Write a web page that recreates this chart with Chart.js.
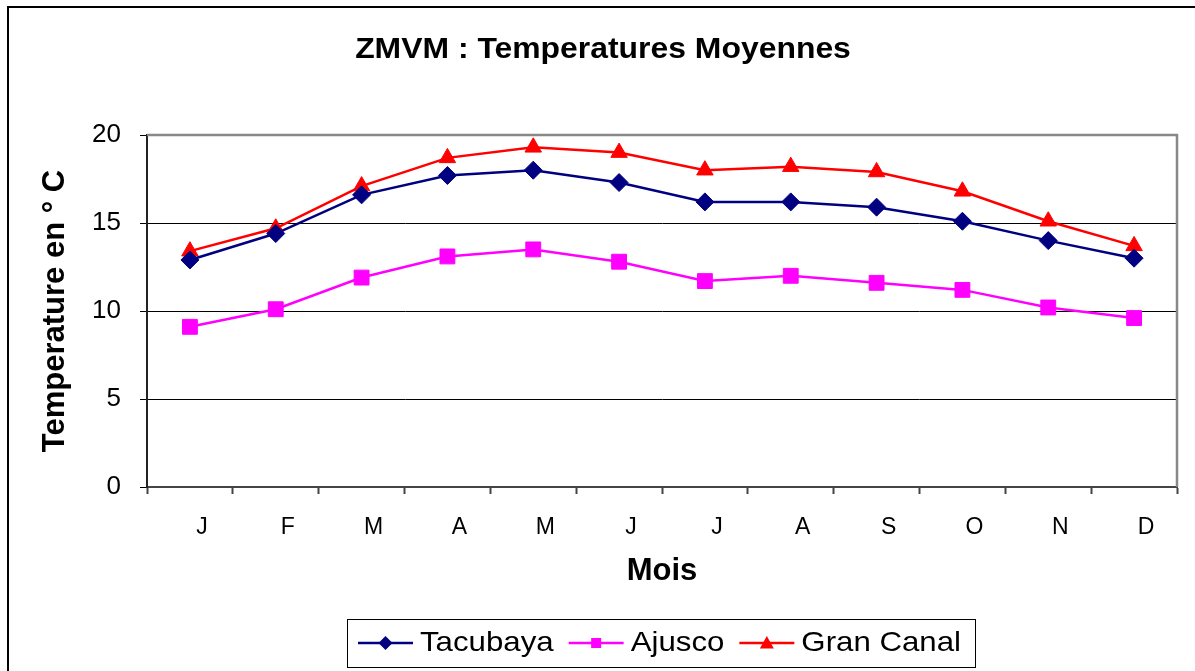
<!DOCTYPE html>
<html>
<head>
<meta charset="utf-8">
<script src="https://cdn.jsdelivr.net/npm/chart.js@4/dist/chart.umd.min.js"></script>
<style>
  html, body { margin: 0; padding: 0; background: #fff; overflow: hidden; }
  #wrap { width: 1195px; height: 671px; position: relative; }
</style>
</head>
<body>
<div id="wrap"><canvas id="grafico" width="1195" height="671"></canvas></div>
<script>
// donnees
const mois = ['J', 'F', 'M', 'A', 'M', 'J', 'J', 'A', 'S', 'O', 'N', 'D'];
const tacubaya = [12.9, 14.4, 16.6, 17.7, 18.0, 17.3, 16.2, 16.2, 15.9, 15.1, 14.0, 13.0];
const ajusco = [9.1, 10.1, 11.9, 13.1, 13.5, 12.8, 11.7, 12.0, 11.6, 11.2, 10.2, 9.6];
const granCanal = [13.4, 14.7, 17.1, 18.7, 19.3, 19.0, 18.0, 18.2, 17.9, 16.8, 15.1, 13.7];
const titre = 'ZMVM : Temperatures Moyennes';
const titreY = 'Temperature en ° C';
const titreX = 'Mois';

const FONT = "'Liberation Sans', Arial, sans-serif";

function serie(label, data, color, style, radius) {
  return {
    label: label,
    data: data,
    borderColor: color,
    backgroundColor: color,
    borderWidth: 2.5,
    pointStyle: style,
    pointRadius: radius,
    pointHoverRadius: radius,
    pointBorderWidth: 1,
    pointBorderColor: color,
    pointBackgroundColor: color,
    tension: 0,
    fill: false
  };
}

// texte etire horizontalement (le graphique d'origine est un peu elargi)
function texteEtire(ctx, txt, x, y, sx, align) {
  ctx.save();
  const w = ctx.measureText(txt).width * sx;
  let x0 = x;
  if (align === 'center') x0 = x - w / 2;
  ctx.translate(x0, y);
  ctx.scale(sx, 1);
  ctx.textAlign = 'left';
  ctx.fillText(txt, 0, 0);
  ctx.restore();
  return w;
}

function marqueur(ctx, style, r, x, y) {
  ctx.beginPath();
  if (style === 'rectRot') {
    ctx.moveTo(x, y - r); ctx.lineTo(x + r, y); ctx.lineTo(x, y + r); ctx.lineTo(x - r, y);
  } else if (style === 'rect') {
    ctx.rect(x - r, y - r, 2 * r, 2 * r);
  } else {
    ctx.moveTo(x, y - r); ctx.lineTo(x + r, y + r * 0.8); ctx.lineTo(x - r, y + r * 0.8);
  }
  ctx.closePath();
  ctx.fill();
}

const decor = {
  id: 'decor',
  afterDraw(chart) {
    const ctx = chart.ctx;
    const a = chart.chartArea;
    ctx.save();
    // cadre general
    ctx.strokeStyle = '#000';
    ctx.lineWidth = 2;
    ctx.strokeRect(8, 7, 1210, 700);
    // bord gris haut et droit de la zone de trace
    ctx.strokeStyle = '#888';
    ctx.lineWidth = 2.5;
    ctx.beginPath();
    ctx.moveTo(a.left, a.top);
    ctx.lineTo(a.right, a.top);
    ctx.lineTo(a.right, a.bottom);
    ctx.stroke();

    // titre
    ctx.fillStyle = '#000';
    ctx.font = 'bold 29px ' + FONT;
    ctx.textBaseline = 'alphabetic';
    texteEtire(ctx, titre, 603, 58, 1.1, 'center');

    // legende
    ctx.strokeStyle = '#000';
    ctx.lineWidth = 1;
    ctx.strokeRect(347.5, 619.5, 628, 48);
    ctx.font = '28px ' + FONT;
    const tailles = { rectRot: 7, rect: 5, triangle: 7 };
    let x = 358;
    const yl = 643;
    chart.data.datasets.forEach(ds => {
      ctx.strokeStyle = ds.borderColor;
      ctx.fillStyle = ds.borderColor;
      ctx.lineWidth = 2.5;
      ctx.beginPath();
      ctx.moveTo(x, yl);
      ctx.lineTo(x + 55, yl);
      ctx.stroke();
      marqueur(ctx, ds.pointStyle, tailles[ds.pointStyle], x + 27.5, yl);
      ctx.fillStyle = '#000';
      const w = texteEtire(ctx, ds.label, x + 62, 651, 1.115, 'left');
      x += 62 + w + 15;
    });
    ctx.restore();
  }
};

new Chart(document.getElementById('grafico').getContext('2d'), {
  type: 'line',
  data: {
    labels: mois,
    datasets: [
      serie('Tacubaya', tacubaya, '#000080', 'rectRot', 9),
      serie('Ajusco', ajusco, '#FF00FF', 'rect', 10.5),
      serie('Gran Canal', granCanal, '#FF0000', 'triangle', 9.5)
    ]
  },
  options: {
    responsive: false,
    animation: false,
    layout: { padding: { top: 135, right: 18, bottom: 71, left: 0 } },
    plugins: {
      legend: { display: false },
      title: { display: false },
      tooltip: { enabled: false }
    },
    scales: {
      x: {
        offset: true,
        afterFit: s => { s.height = 113; },
        grid: {
          offset: true,
          drawOnChartArea: false,
          drawTicks: true,
          tickLength: 7,
          tickColor: '#444',
          tickWidth: 2
        },
        border: { color: '#444', width: 2 },
        ticks: {
          color: '#000',
          font: { family: FONT, size: 23 },
          padding: 20,
          labelOffset: 12,
          maxRotation: 0,
          autoSkip: false
        },
        title: {
          display: true,
          text: titreX,
          color: '#000',
          font: { family: FONT, size: 31, weight: 'bold' },
          padding: { top: 0, bottom: 10 }
        }
      },
      y: {
        min: 0,
        max: 20,
        afterFit: s => { s.width = 147; },
        grid: {
          color: '#000',
          lineWidth: 1,
          drawTicks: true,
          tickLength: 7,
          tickColor: '#000'
        },
        border: { color: '#222', width: 2 },
        ticks: {
          stepSize: 5,
          color: '#000',
          font: { family: FONT, size: 26 },
          padding: 19
        },
        title: {
          display: true,
          text: titreY,
          color: '#000',
          font: { family: FONT, size: 31, weight: 'bold' },
          padding: { top: 37, bottom: 0 }
        }
      }
    }
  },
  plugins: [decor]
});
</script>
</body>
</html>
